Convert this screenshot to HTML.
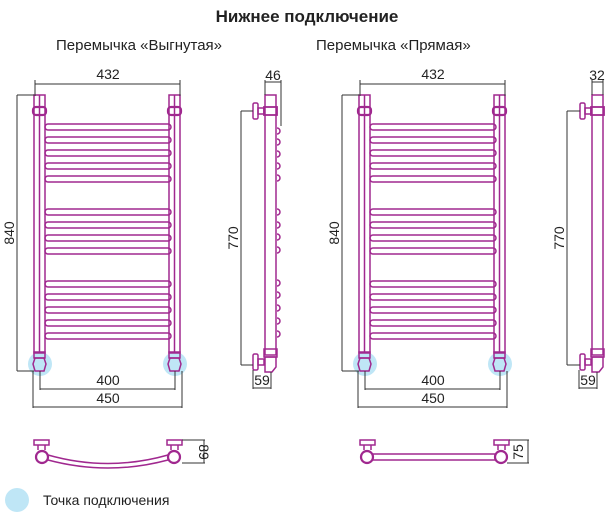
<!DOCTYPE html>
<html><head><meta charset="utf-8"><style>
html,body{margin:0;padding:0;background:#fff;}
svg{display:block;}
text{font-family:"Liberation Sans","DejaVu Sans",sans-serif;}
</style></head><body>
<svg width="614" height="525" viewBox="0 0 614 525" xmlns="http://www.w3.org/2000/svg">
<defs>
<g id="front" fill="none" stroke="#a0288f" stroke-width="1.5">
  <circle cx="40" cy="364" r="12" fill="#bfe6f6" stroke="none"/>
  <circle cx="175" cy="364" r="12" fill="#bfe6f6" stroke="none"/>
  <rect x="34" y="95" width="11" height="258"/>
  <line x1="39.5" y1="95" x2="39.5" y2="353"/>
  <rect x="169" y="95" width="11" height="258"/>
  <line x1="174.5" y1="95" x2="174.5" y2="353"/>
  <rect x="33" y="107" width="13" height="8" rx="3" stroke-width="2.2"/>
  <rect x="168" y="107" width="13" height="8" rx="3" stroke-width="2.2"/>
  <rect x="34" y="352" width="11" height="6"/>
  <rect x="169" y="352" width="11" height="6"/>
  <path d="M35 358 h9 l2 6 l-2 7 h-9 l-2 -7 z"/>
  <path d="M170 358 h9 l2 6 l-2 7 h-9 l-2 -7 z"/>
  <g>
    <rect x="45" y="124" width="126" height="6" rx="3"/>
    <rect x="45" y="137" width="126" height="6" rx="3"/>
    <rect x="45" y="150" width="126" height="6" rx="3"/>
    <rect x="45" y="163" width="126" height="6" rx="3"/>
    <rect x="45" y="176" width="126" height="6" rx="3"/>
    <rect x="45" y="209" width="126" height="6" rx="3"/>
    <rect x="45" y="222" width="126" height="6" rx="3"/>
    <rect x="45" y="235" width="126" height="6" rx="3"/>
    <rect x="45" y="248" width="126" height="6" rx="3"/>
    <rect x="45" y="281" width="126" height="6" rx="3"/>
    <rect x="45" y="294" width="126" height="6" rx="3"/>
    <rect x="45" y="307" width="126" height="6" rx="3"/>
    <rect x="45" y="320" width="126" height="6" rx="3"/>
    <rect x="45" y="333" width="126" height="6" rx="3"/>
  </g>
  <g stroke="#333" stroke-width="1">
    <line x1="35" y1="84" x2="180" y2="84"/>
    <line x1="35" y1="80" x2="35" y2="96"/>
    <line x1="180" y1="80" x2="180" y2="96"/>
    <line x1="17" y1="95" x2="34" y2="95"/>
    <line x1="17" y1="95" x2="17" y2="371"/>
    <line x1="17" y1="371" x2="34" y2="371"/>
    <line x1="40" y1="371" x2="40" y2="390"/>
    <line x1="175" y1="371" x2="175" y2="390"/>
    <line x1="40" y1="389" x2="175" y2="389"/>
    <line x1="33" y1="371" x2="33" y2="408"/>
    <line x1="182" y1="371" x2="182" y2="408"/>
    <line x1="33" y1="407" x2="182" y2="407"/>
  </g>
  <g fill="#222" stroke="none" font-size="14">
    <text x="108" y="79" text-anchor="middle">432</text>
    <text x="108" y="385" text-anchor="middle">400</text>
    <text x="108" y="403" text-anchor="middle">450</text>
    <text transform="translate(14,233) rotate(-90)" text-anchor="middle">840</text>
  </g>
</g>
<g id="valve" fill="none" stroke="#a0288f" stroke-width="1.5">
  <rect x="0" y="-8" width="5" height="16" rx="1.5"/>
  <rect x="5" y="-3" width="6" height="6"/>
</g>
</defs>

<text x="307" y="22" text-anchor="middle" font-size="17" font-weight="bold" fill="#222">Нижнее подключение</text>
<text x="56" y="50" font-size="15" fill="#222">Перемычка «Выгнутая»</text>
<text x="316" y="50" font-size="15" fill="#222">Перемычка «Прямая»</text>

<use href="#front"/>
<use href="#front" transform="translate(325,0)"/>

<g fill="none" stroke="#a0288f" stroke-width="1.5">
  <rect x="265" y="95" width="11" height="260"/>
  <rect x="264" y="107" width="13" height="8" stroke-width="1.8"/>
  <rect x="264" y="349" width="13" height="8"/>
  <path d="M265 357 h11 v10 l-4 5 h-7 z"/>
  <use href="#valve" transform="translate(253,111)"/>
  <use href="#valve" transform="translate(253,362)"/>
  <g>
    <path d="M277 128 a3 3 0 0 1 0 6"/><path d="M277 139 a3 3 0 0 1 0 6"/><path d="M277 151 a3 3 0 0 1 0 6"/><path d="M277 163 a3 3 0 0 1 0 6"/><path d="M277 175 a3 3 0 0 1 0 6"/>
    <path d="M277 209 a3 3 0 0 1 0 6"/><path d="M277 222 a3 3 0 0 1 0 6"/><path d="M277 234 a3 3 0 0 1 0 6"/><path d="M277 247 a3 3 0 0 1 0 6"/>
    <path d="M277 280 a3 3 0 0 1 0 6"/><path d="M277 292 a3 3 0 0 1 0 6"/><path d="M277 305 a3 3 0 0 1 0 6"/><path d="M277 318 a3 3 0 0 1 0 6"/><path d="M277 331 a3 3 0 0 1 0 6"/>
  </g>
</g>
<g stroke="#333" stroke-width="1">
  <line x1="265" y1="82" x2="281" y2="82"/>
  <line x1="265" y1="80" x2="265" y2="95"/>
  <line x1="281" y1="80" x2="281" y2="126"/>
  <line x1="241" y1="111" x2="253" y2="111"/>
  <line x1="241" y1="111" x2="241" y2="365"/>
  <line x1="241" y1="365" x2="253" y2="365"/>
  <line x1="253" y1="370" x2="253" y2="389"/>
  <line x1="271" y1="372" x2="271" y2="389"/>
  <line x1="253" y1="388" x2="271" y2="388"/>
</g>
<g fill="#222" font-size="14">
  <text x="273" y="80" text-anchor="middle">46</text>
  <text x="262" y="385" text-anchor="middle">59</text>
  <text transform="translate(238,238) rotate(-90)" text-anchor="middle">770</text>
</g>

<g fill="none" stroke="#a0288f" stroke-width="1.5">
  <rect x="592" y="95" width="11" height="260"/>
  <rect x="591" y="107" width="13" height="8" stroke-width="1.8"/>
  <rect x="591" y="349" width="13" height="8"/>
  <path d="M592 357 h11 v10 l-4 5 h-7 z"/>
  <use href="#valve" transform="translate(580,111)"/>
  <use href="#valve" transform="translate(580,362)"/>
</g>
<g stroke="#333" stroke-width="1">
  <line x1="592" y1="82" x2="603" y2="82"/>
  <line x1="592" y1="80" x2="592" y2="95"/>
  <line x1="603" y1="80" x2="603" y2="95"/>
  <line x1="567" y1="111" x2="580" y2="111"/>
  <line x1="567" y1="111" x2="567" y2="365"/>
  <line x1="567" y1="365" x2="580" y2="365"/>
  <line x1="579" y1="370" x2="579" y2="389"/>
  <line x1="597" y1="372" x2="597" y2="389"/>
  <line x1="579" y1="388" x2="597" y2="388"/>
</g>
<g fill="#222" font-size="14">
  <text x="597" y="80" text-anchor="middle">32</text>
  <text x="588" y="385" text-anchor="middle">59</text>
  <text transform="translate(564,238) rotate(-90)" text-anchor="middle">770</text>
</g>

<g fill="none" stroke="#a0288f" stroke-width="1.5">
  <rect x="34" y="440" width="15" height="5"/>
  <path d="M38 445 v5 M45 445 v5"/>
  <circle cx="42" cy="457" r="6" stroke-width="2.2"/>
  <rect x="167" y="440" width="15" height="5"/>
  <path d="M171 445 v5 M178 445 v5"/>
  <circle cx="174" cy="457" r="6" stroke-width="2.2"/>
  <path d="M48 455 Q108 472 168 455"/>
  <path d="M48 460 Q108 476 168 460"/>

  <rect x="360" y="440" width="15" height="5"/>
  <path d="M364 445 v5 M371 445 v5"/>
  <circle cx="367" cy="457" r="6" stroke-width="2.2"/>
  <rect x="494" y="440" width="15" height="5"/>
  <path d="M498 445 v5 M505 445 v5"/>
  <circle cx="501" cy="457" r="6" stroke-width="2.2"/>
  <line x1="373" y1="454" x2="495" y2="454"/>
  <line x1="373" y1="460" x2="495" y2="460"/>
</g>
<g stroke="#333" stroke-width="1">
  <line x1="182" y1="440" x2="205" y2="440"/>
  <line x1="182" y1="463" x2="205" y2="463"/>
  <line x1="204" y1="440" x2="204" y2="463"/>
  <line x1="509" y1="440" x2="529" y2="440"/>
  <line x1="507" y1="463" x2="529" y2="463"/>
  <line x1="528" y1="440" x2="528" y2="463"/>
</g>
<g fill="#222" font-size="14">
  <text transform="translate(199,452) rotate(90)" text-anchor="middle">89</text>
  <text transform="translate(523,452) rotate(-90)" text-anchor="middle">75</text>
</g>

<circle cx="17" cy="500" r="12" fill="#bfe6f6"/>
<text x="43" y="505" font-size="14" fill="#222">Точка подключения</text>
</svg>
</body></html>
